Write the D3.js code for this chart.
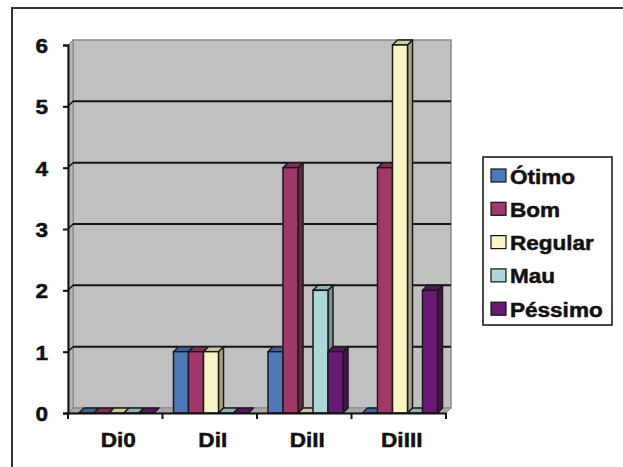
<!DOCTYPE html>
<html><head><meta charset="utf-8">
<script src="https://cdn.jsdelivr.net/npm/d3@7"></script>
<style>body{margin:0;background:#fff}svg{display:block}</style>
</head><body>
<script>
const categories = ["Di0", "DiI", "DiII", "DiIII"];
const seriesNames = ["Ótimo", "Bom", "Regular", "Mau", "Péssimo"];
const otimo   = [0, 1, 1, 0];
const bom     = [0, 1, 4, 4];
const regular = [0, 1, 0, 6];
const mau     = [0, 0, 2, 0];
const pessimo = [0, 0, 1, 2];
const seriesValues = [otimo, bom, regular, mau, pessimo];
const colors = ["#4f78b8", "#a0386a", "#f8f4c4", "#aed8d8", "#6a1a75"];
const yTicks = [0, 1, 2, 3, 4, 5, 6];

const W = 623, H = 467;
const svg = d3.select("body").append("svg").attr("width", W).attr("height", H);
const FONT = "'Liberation Sans', Arial, sans-serif";
const SX = 1.1;
const FS = 20.5;

// outer border (cropped at right/bottom)
svg.append("rect").attr("x", 12).attr("y", 8).attr("width", 640).attr("height", 500)
  .attr("fill", "#fff").attr("stroke", "#333").attr("stroke-width", 2);

const x0 = 68, x1 = 446, yTop = 45, yBot = 413;
const dx = 5, dy = -5;
const y = d3.scaleLinear().domain([0, 6]).range([yBot, yTop]);
const xBand = d3.scaleBand().domain(categories).range([x0, x1]).padding(0);
const xSer = d3.scaleBand().domain(seriesNames).range([11, 86]).padding(0);

const g = svg.append("g");
// back wall
g.append("rect").attr("x", x0 + dx).attr("y", yTop + dy).attr("width", x1 - x0).attr("height", yBot - yTop)
  .attr("fill", "#c0c0c0").attr("stroke", "#888").attr("stroke-width", 1.5);
// left wall
g.append("polygon").attr("points", [[x0, yTop], [x0 + dx, yTop + dy], [x0 + dx, yBot + dy], [x0, yBot]].join(" "))
  .attr("fill", "#b4b4b4").attr("stroke", "#888").attr("stroke-width", 1);
// floor
g.append("polygon").attr("points", [[x0, yBot], [x0 + dx, yBot + dy], [x1 + dx, yBot + dy], [x1, yBot]].join(" "))
  .attr("fill", "#a8a8a8").attr("stroke", "#888").attr("stroke-width", 1);

// gridlines
yTicks.filter(v => v > 0 && v < 6).forEach(v => {
  g.append("line").attr("x1", x0 + dx).attr("x2", x1 + dx).attr("y1", y(v) + dy).attr("y2", y(v) + dy)
    .attr("stroke", "#111").attr("stroke-width", 2);
  g.append("line").attr("x1", x0).attr("x2", x0 + dx).attr("y1", y(v)).attr("y2", y(v) + dy)
    .attr("stroke", "#111").attr("stroke-width", 1.5);
});

// bars
const bars = g.append("g");
categories.forEach((c, ci) => {
  seriesNames.forEach((s, si) => {
    const v = seriesValues[si][ci];
    const bx = xBand(c) + xSer(s), bw = xSer.bandwidth();
    const yv = y(v), y0 = y(0);
    const col = d3.color(colors[si]);
    const stroke = "#1a1a1a";
    if (v > 0) {
      bars.append("polygon").attr("points", [[bx + bw, yv], [bx + bw + dx, yv + dy], [bx + bw + dx, y0 + dy], [bx + bw, y0]].join(" "))
        .attr("fill", col.darker(1.1)).attr("stroke", stroke).attr("stroke-width", 1.5).attr("stroke-linejoin", "round");
    }
    bars.append("polygon").attr("points", [[bx, yv], [bx + dx, yv + dy], [bx + bw + dx, yv + dy], [bx + bw, yv]].join(" "))
      .attr("fill", col.darker(0.55)).attr("stroke", stroke).attr("stroke-width", 1.5).attr("stroke-linejoin", "round");
    if (v > 0) {
      bars.append("rect").attr("x", bx).attr("y", yv).attr("width", bw).attr("height", y0 - yv)
        .attr("fill", colors[si]).attr("stroke", stroke).attr("stroke-width", 1.5);
    }
  });
});

function styleText(sel) {
  sel.attr("font-family", FONT).attr("font-size", FS).attr("font-weight", "bold")
    .attr("fill", "#111").attr("stroke", "#111").attr("stroke-width", 0.5);
}

// axes
const yAxis = d3.axisLeft(y).tickValues(yTicks).tickSize(5).tickFormat(d3.format("d"));
const ya = svg.append("g").attr("transform", `translate(${x0},0)`).call(yAxis);
ya.select(".domain").attr("stroke", "#111").attr("stroke-width", 2);
ya.selectAll(".tick line").attr("stroke", "#111").attr("stroke-width", 2);
ya.selectAll(".tick text").attr("x", null).attr("dy", null).attr("text-anchor", "end")
  .attr("transform", `translate(-20,7.5) scale(${SX},1)`).call(styleText);

const xAxis = d3.axisBottom(xBand).tickSize(0).tickSizeOuter(0);
const xa = svg.append("g").attr("transform", `translate(0,${yBot})`).call(xAxis);
xa.select(".domain").attr("stroke", "#111").attr("stroke-width", 2);
xa.selectAll(".tick text").attr("y", null).attr("dy", null).attr("text-anchor", "middle")
  .attr("transform", `translate(3,34) scale(${SX},1)`).call(styleText);
// category boundary ticks
const bounds = categories.map(c => xBand(c)).concat([x1]);
xa.selectAll(".btick").data(bounds).enter().append("line").attr("class", "btick")
  .attr("x1", d => d).attr("x2", d => d).attr("y1", 0).attr("y2", 6)
  .attr("stroke", "#111").attr("stroke-width", 2);

// legend
const lg = svg.append("g");
lg.append("rect").attr("x", 483).attr("y", 157).attr("width", 129).attr("height", 168)
  .attr("fill", "#fff").attr("stroke", "#111").attr("stroke-width", 1.5);
seriesNames.forEach((s, i) => {
  const cy = 176 + i * 33.3;
  lg.append("rect").attr("x", 491).attr("y", cy - 7).attr("width", 15).attr("height", 13)
    .attr("fill", colors[i]).attr("stroke", "#111").attr("stroke-width", 1.2);
  lg.append("text").text(s).attr("transform", `translate(510,${cy + 7.5}) scale(${SX},1)`).call(styleText);
});
</script>
</body></html>
